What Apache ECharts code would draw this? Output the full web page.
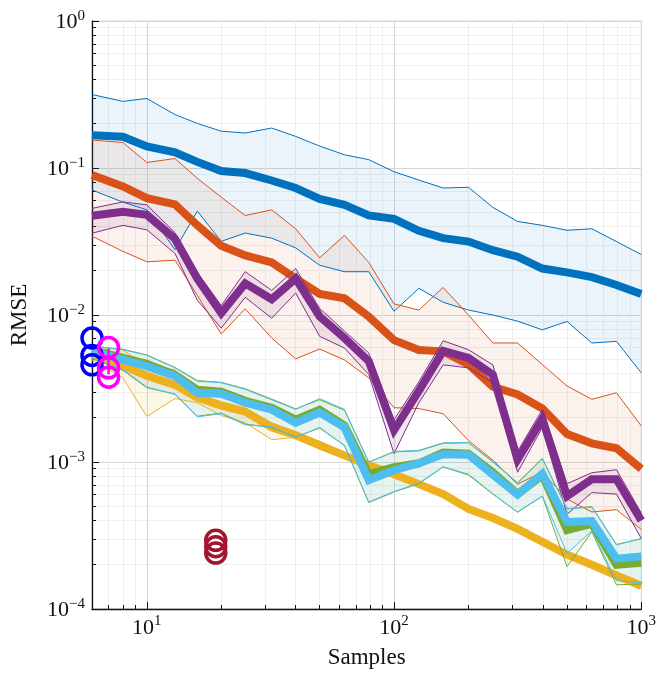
<!DOCTYPE html>
<html>
<head>
<meta charset="utf-8">
<script src="https://cdn.jsdelivr.net/npm/echarts@6.0.0/dist/echarts.min.js"></script>
<style>
  html, body { margin: 0; padding: 0; background: #ffffff; }
  #chart { width: 659px; height: 674px; }
</style>
</head>
<body>
<div id="chart"></div>
<script>
// Sample counts shared by every method
const samples = [6, 8, 10, 13, 16, 20, 25, 32, 40, 50, 63, 79, 100, 126, 158, 200, 251, 316, 398, 501, 631, 794, 1000];

// Method 1 (blue)
const blueMean  = [0.167, 0.163, 0.140, 0.128, 0.110, 0.0953, 0.0924, 0.0822, 0.0731, 0.0617, 0.0561, 0.0476, 0.0451, 0.0374, 0.0333, 0.0316, 0.0276, 0.0249, 0.0207, 0.0195, 0.0181, 0.0160, 0.0139];
const blueUpper = [0.316, 0.284, 0.297, 0.231, 0.201, 0.178, 0.173, 0.187, 0.164, 0.141, 0.123, 0.114, 0.0943, 0.0828, 0.0731, 0.0739, 0.0540, 0.0433, 0.0407, 0.0377, 0.0386, 0.0316, 0.0258];
const blueLower = [0.0709, 0.0586, 0.0519, 0.0278, 0.0509, 0.0317, 0.0361, 0.0333, 0.0286, 0.0218, 0.0197, 0.0197, 0.0106, 0.0152, 0.0122, 0.0108, 0.0100, 0.00908, 0.00793, 0.00904, 0.00645, 0.00662, 0.00404];

// Method 2 (orange)
const orangeMean  = [0.0895, 0.0749, 0.0623, 0.0566, 0.0407, 0.0296, 0.0254, 0.0228, 0.0177, 0.0139, 0.0130, 0.00977, 0.00675, 0.00578, 0.00566, 0.00460, 0.00325, 0.00288, 0.00231, 0.00155, 0.00134, 0.00124, 0.000897];
const orangeUpper = [0.155, 0.149, 0.109, 0.116, 0.0851, 0.0633, 0.0475, 0.0519, 0.0386, 0.0245, 0.0348, 0.0228, 0.0119, 0.0108, 0.0154, 0.0100, 0.00645, 0.00645, 0.00460, 0.00329, 0.00267, 0.00296, 0.00176];
const orangeLower = [0.0344, 0.0271, 0.0230, 0.0236, 0.0136, 0.00742, 0.0110, 0.00697, 0.00503, 0.00587, 0.00495, 0.00374, 0.00234, 0.00231, 0.00213, 0.00140, 0.00103, 0.000707, 0.000852, 0.000560, 0.000457, 0.000474, 0.000348];

// Method 3 (yellow)
const yellowMean  = [0.00537, 0.00451, 0.00386, 0.00335, 0.00274, 0.00242, 0.00220, 0.00172, 0.00152, 0.00130, 0.00111, 0.000950, 0.000826, 0.000707, 0.000605, 0.000479, 0.000416, 0.000351, 0.000287, 0.000234, 0.000200, 0.000169, 0.000144];
const yellowUpper = [0.00616, 0.00578, 0.00451, 0.00424, 0.00291, 0.00257, 0.00234, 0.00185, 0.00161, 0.00138, 0.00116, 0.000995, 0.000865, 0.000740, 0.000634, 0.000502, 0.000436, 0.000367, 0.000300, 0.000245, 0.000210, 0.000177, 0.000151];
const yellowLower = [0.00495, 0.00374, 0.00204, 0.00270, 0.00253, 0.00207, 0.00185, 0.00142, 0.00147, 0.00122, 0.00106, 0.000907, 0.000788, 0.000674, 0.000577, 0.000457, 0.000397, 0.000335, 0.000273, 0.000224, 0.000191, 0.000161, 0.000138];

// Method 4 (purple)
const purpleMean  = [0.0473, 0.0503, 0.0480, 0.0330, 0.0177, 0.0103, 0.0164, 0.0128, 0.0177, 0.00977, 0.00697, 0.00485, 0.00165, 0.00305, 0.00569, 0.00510, 0.00392, 0.00104, 0.00197, 0.000586, 0.000764, 0.000764, 0.000400];
const purpleUpper = [0.0531, 0.0588, 0.0561, 0.0363, 0.0195, 0.0116, 0.0197, 0.0147, 0.0207, 0.0111, 0.00777, 0.00552, 0.00194, 0.00351, 0.00668, 0.00581, 0.00458, 0.00118, 0.00228, 0.000712, 0.000845, 0.000886, 0.000450];
const purpleLower = [0.0360, 0.0407, 0.0380, 0.0262, 0.0126, 0.00814, 0.0132, 0.00951, 0.0141, 0.00716, 0.00596, 0.00394, 0.00114, 0.00253, 0.00458, 0.00437, 0.00346, 0.000852, 0.00172, 0.000440, 0.000619, 0.000605, 0.000302];

// Method 5 (green)
const greenMean  = [0.00578, 0.00510, 0.00465, 0.00392, 0.00310, 0.00301, 0.00261, 0.00234, 0.00194, 0.00227, 0.00177, 0.000826, 0.000921, 0.000980, 0.00116, 0.00114, 0.000852, 0.000605, 0.000813, 0.000345, 0.000380, 0.000200, 0.000206];
const greenUpper = [0.00610, 0.00585, 0.00535, 0.00440, 0.00358, 0.00348, 0.00315, 0.00268, 0.00230, 0.00265, 0.00225, 0.00100, 0.00117, 0.00119, 0.00134, 0.00135, 0.00100, 0.000720, 0.00105, 0.000482, 0.000497, 0.000275, 0.000300];
const greenLower = [0.00505, 0.00420, 0.00320, 0.00290, 0.00205, 0.00215, 0.00181, 0.00172, 0.00148, 0.00170, 0.00130, 0.000530, 0.000625, 0.000712, 0.000925, 0.000815, 0.000605, 0.000455, 0.000585, 0.000194, 0.000335, 0.000146, 0.000148];

// Method 6 (light blue)
const cyanMean  = [0.00569, 0.00497, 0.00448, 0.00384, 0.00296, 0.00291, 0.00253, 0.00227, 0.00185, 0.00217, 0.00172, 0.000752, 0.000879, 0.000980, 0.00113, 0.00112, 0.000819, 0.000600, 0.000832, 0.000391, 0.000397, 0.000220, 0.000228];
const cyanUpper = [0.00616, 0.00581, 0.00532, 0.00437, 0.00355, 0.00346, 0.00312, 0.00265, 0.00228, 0.00270, 0.00228, 0.000995, 0.00118, 0.00120, 0.00135, 0.00136, 0.00101, 0.000723, 0.00106, 0.000479, 0.000494, 0.000273, 0.000302];
const cyanLower = [0.00510, 0.00425, 0.00324, 0.00288, 0.00203, 0.00213, 0.00179, 0.00174, 0.00147, 0.00172, 0.00129, 0.000534, 0.000629, 0.000718, 0.000928, 0.000826, 0.000608, 0.000457, 0.000588, 0.000239, 0.000340, 0.000156, 0.000151];

// Single-run results drawn as circles
const blueRunX = 6;
const blueRunY = [0.00697, 0.00531, 0.00458];
const magentaRunX = 7;
const magentaRunY = [0.00601, 0.00437, 0.00377];
const magentaRangeY = [0.0059, 0.00395];
const redRunX = 19;
const redRunY = [0.000293, 0.000265, 0.000240];

// Axis ticks
const majorX = [10, 100, 1000];
const majorY = [1e-4, 1e-3, 1e-2, 1e-1, 1];
const minorX = [7, 8, 9];
for (const d of [10, 100]) for (let m = 2; m <= 9; m++) minorX.push(m * d);
const minorY = [];
for (const d of [1e-4, 1e-3, 1e-2, 1e-1]) for (let m = 2; m <= 9; m++) minorY.push(+(m * d).toPrecision(3));

const FONT = 'Liberation Serif';
const INK = '#111111';

function powLabel(v) {
  const e = Math.round(Math.log10(v));
  return '{b|10}{e|' + (e < 0 ? '\u2212' + (-e) : String(e)) + '}';
}
const labelRich = {
  b: { fontSize: 22, fontFamily: FONT, color: INK, padding: [3, 0, 0, 0] },
  e: { fontSize: 15, fontFamily: FONT, color: INK, verticalAlign: 'top' }
};

const methods = [
  { color: '#0072BD', fill: 'rgba(0,114,189,0.08)',  mean: blueMean,   upper: blueUpper,   lower: blueLower },
  { color: '#D95319', fill: 'rgba(217,83,25,0.08)',  mean: orangeMean, upper: orangeUpper, lower: orangeLower },
  { color: '#EDB120', fill: 'rgba(237,177,32,0.10)', mean: yellowMean, upper: yellowUpper, lower: yellowLower },
  { color: '#7E2F8E', fill: 'rgba(126,47,142,0.10)', mean: purpleMean, upper: purpleUpper, lower: purpleLower },
  { color: '#77AC30', fill: 'rgba(119,172,48,0.08)', mean: greenMean,  upper: greenUpper,  lower: greenLower },
  { color: '#4DBEEE', fill: 'rgba(77,190,238,0.08)', mean: cyanMean,   upper: cyanUpper,   lower: cyanLower }
];

function pairs(ys) { return samples.map((s, i) => [s, ys[i]]); }

function bandSeries(upper, lower, fill) {
  return {
    type: 'custom', xAxisIndex: 0, yAxisIndex: 0, silent: true, animation: false,
    data: [[samples[0], upper[0]]],
    renderItem: function (params, api) {
      const pts = [];
      for (let i = 0; i < samples.length; i++) pts.push(api.coord([samples[i], upper[i]]));
      for (let i = samples.length - 1; i >= 0; i--) pts.push(api.coord([samples[i], lower[i]]));
      return { type: 'polygon', shape: { points: pts }, style: { fill: fill, stroke: null } };
    }
  };
}

function lineSeries(ys, color, width) {
  return {
    type: 'line', xAxisIndex: 0, yAxisIndex: 0, data: pairs(ys),
    symbol: 'none', showSymbol: false, silent: true, animation: false, clip: true,
    lineStyle: { color: color, width: width, join: 'miter', cap: 'butt' }
  };
}

function circleSeries(x, ys, color) {
  return {
    type: 'scatter', xAxisIndex: 0, yAxisIndex: 0, clip: false, silent: true, animation: false, z: 5,
    data: ys.map(v => [x, v]), symbol: 'circle', symbolSize: 20,
    itemStyle: { color: 'rgba(0,0,0,0)', borderColor: color, borderWidth: 3.5, opacity: 1 }
  };
}

const series = [];
for (const m of methods) {
  series.push(bandSeries(m.upper, m.lower, m.fill));
  series.push(lineSeries(m.upper, m.color, 1));
  series.push(lineSeries(m.lower, m.color, 1));
  series.push(lineSeries(m.mean, m.color, 8));
}
series.push({
  type: 'line', xAxisIndex: 0, yAxisIndex: 0, clip: false, silent: true, animation: false, z: 5,
  data: magentaRangeY.map(v => [magentaRunX, v]), symbol: 'none',
  lineStyle: { color: '#FF00FF', width: 2.5 }
});
series.push(circleSeries(blueRunX, blueRunY, '#0000FF'));
series.push(circleSeries(magentaRunX, magentaRunY, '#FF00FF'));
series.push(circleSeries(redRunX, redRunY, '#A2142F'));

const option = {
  animation: false,
  backgroundColor: '#ffffff',
  grid: { left: 89, right: 15, top: 21, bottom: 61, show: true, borderColor: '#d4d4d4', borderWidth: 1, backgroundColor: 'transparent' },
  xAxis: [
    {
      type: 'log', logBase: 10, min: 6, max: 1000, position: 'bottom',
      axisLine: { show: false },
      axisTick: { show: true, inside: true, length: 4, customValues: minorX, lineStyle: { color: INK, width: 1 } },
      axisLabel: { show: false },
      splitLine: { show: true, lineStyle: { color: '#efefef', width: 1 } }
    },
    {
      type: 'log', logBase: 10, min: 6, max: 1000, position: 'bottom',
      axisLine: { show: true, onZero: false, lineStyle: { color: INK, width: 1.3 } },
      axisTick: { show: true, inside: true, length: 7, customValues: majorX, lineStyle: { color: INK, width: 1 } },
      axisLabel: { show: true, customValues: majorX, margin: 5, formatter: powLabel, rich: labelRich },
      splitLine: { show: true, lineStyle: { color: '#d6d6d6', width: 1 } },
      name: 'Samples', nameLocation: 'middle', nameGap: 37,
      nameTextStyle: { fontFamily: FONT, fontSize: 23, color: INK }
    }
  ],
  yAxis: [
    {
      type: 'log', logBase: 10, min: 1e-4, max: 1, position: 'left',
      axisLine: { show: false },
      axisTick: { show: true, inside: true, length: 4, customValues: minorY, lineStyle: { color: INK, width: 1 } },
      axisLabel: { show: false },
      splitLine: { show: true, lineStyle: { color: '#efefef', width: 1 } }
    },
    {
      type: 'log', logBase: 10, min: 1e-4, max: 1, position: 'left',
      axisLine: { show: true, onZero: false, lineStyle: { color: INK, width: 1.3 } },
      axisTick: { show: true, inside: true, length: 7, customValues: majorY, lineStyle: { color: INK, width: 1 } },
      axisLabel: { show: true, customValues: majorY, margin: 7, formatter: powLabel, rich: labelRich },
      splitLine: { show: true, lineStyle: { color: '#d6d6d6', width: 1 } },
      name: 'RMSE', nameLocation: 'middle', nameGap: 61, nameRotate: 90,
      nameTextStyle: { fontFamily: FONT, fontSize: 23, color: INK }
    }
  ],
  series: series
};

const chart = echarts.init(document.getElementById('chart'), null, { renderer: 'canvas' });
chart.setOption(option);
</script>
</body>
</html>
